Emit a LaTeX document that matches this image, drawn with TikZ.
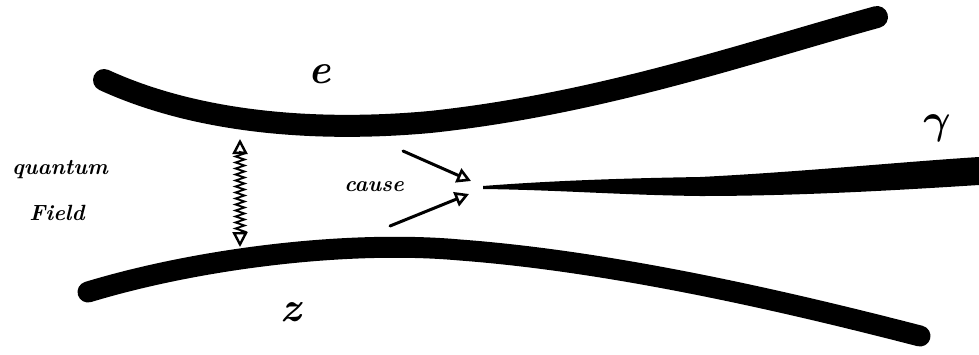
\documentclass[tikz,border=0pt]{standalone}
\usepackage{amsmath}
\usepackage{bm}
\usetikzlibrary{arrows.meta,decorations.pathmorphing}
\begin{document}
\begin{tikzpicture}[x=1pt,y=-1pt,
  thickline/.style={line width=22pt,line cap=round},
  wavy/.style={line width=1.8pt,decorate,decoration={zigzag,segment length=6pt,amplitude=4.5pt,pre length=13pt,post length=13pt},
     {Triangle[open,length=15pt,width=15pt,line width=2.4pt]}-{Triangle[open,length=15pt,width=15pt,line width=2.4pt]}},
  causearrow/.style={line width=3pt,line cap=round,-{Triangle[open,length=14pt,width=15pt,line width=2.6pt]}},
  lbl/.style={font=\bfseries\itshape\fontsize{22}{24}\selectfont},
  biglbl/.style={font=\bfseries\itshape\fontsize{42}{42}\selectfont},
]
\useasboundingbox (0,0) rectangle (979,354);
% electron line
\coordinate (e1) at (104,80);
\coordinate (e2) at (877,17);
\draw[thickline] (e1) .. controls (200,124) and (320,132) .. (430,122) .. controls (600,104) and (750,52) .. (e2);
% Z line
\coordinate (z1) at (88,292);
\coordinate (z2) at (920,336);
\draw[thickline,line width=21pt] (z1) .. controls (200,258) and (350,240) .. (460,250) .. controls (620,262) and (800,305) .. (z2);
% photon (tapered)
\coordinate (g1) at (483,186);
\fill (g1) .. controls (560,180) and (640,178) .. (700,177) .. controls (800,172) and (900,162) .. (979,157) -- (979,185) .. controls (900,190) and (800,196) .. (700,196) .. controls (620,195) and (560,190) .. (483,189) -- cycle;
% exchange
\coordinate (w1) at (240,139);
\coordinate (w2) at (240,247);
\draw[wavy] (w1) -- (w2);
% cause arrows
\coordinate (c1) at (403,151);
\coordinate (c2) at (471,181);
\coordinate (c3) at (390,226);
\coordinate (c4) at (469,194);
\draw[causearrow] (c1) -- (c2);
\draw[causearrow] (c3) -- (c4);
% labels
\node[biglbl] (le) at (320,74) {e};
\node[biglbl] (lz) at (291,312) {z};
\node[scale=4.2] (lg) at (937,128) {$\bm{\gamma}$};
\node[lbl] (lq1) at (60,170) {quantum};
\node[lbl] (lq2) at (57,213) {Field};
\node[lbl] (lc) at (374,187) {cause};
\end{tikzpicture}
\end{document}
